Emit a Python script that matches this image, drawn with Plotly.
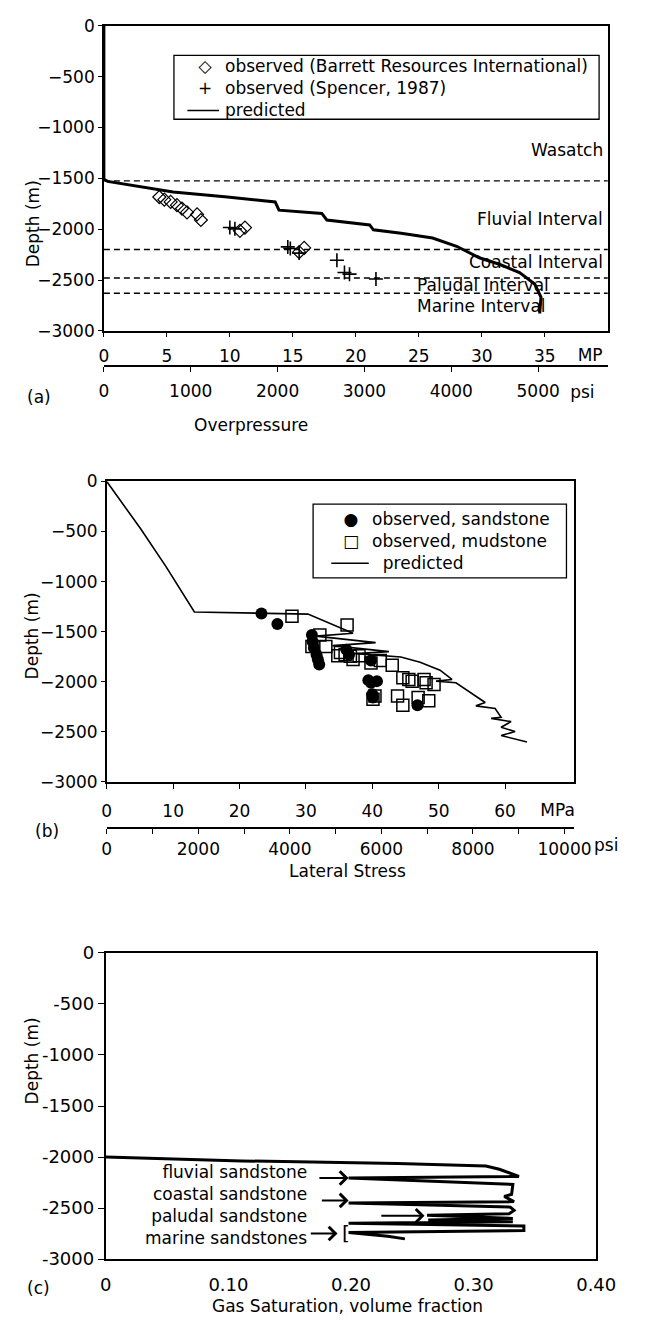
import plotly.graph_objects as go

# ---------------------------------------------------------------- data
# (a) overpressure vs depth
a_pred_mpa = [0, 0, 0.3, 5.5, 9.8, 13.6, 13.9, 17.3, 17.7, 21.1, 21.4, 23.6,
              26.1, 28.0, 29.8, 31.4, 33.0, 34.2, 34.7, 34.6]
a_pred_depth = [0, -1510, -1530, -1635, -1684, -1732, -1813, -1845, -1910, -1958,
                -2006, -2039, -2087, -2168, -2281, -2345, -2426, -2539, -2668, -2829]
a_barrett_mpa = [4.4, 4.8, 5.3, 5.8, 6.2, 6.6, 7.4, 7.7, 10.8, 11.2, 15.9, 15.5]
a_barrett_depth = [-1684, -1710, -1732, -1764, -1797, -1835, -1855, -1910,
                   -2016, -1984, -2184, -2226]
a_spencer_mpa = [10.0, 10.4, 14.6, 14.8, 15.5, 18.5, 19.1, 19.5, 21.6]
a_spencer_depth = [-1984, -1997, -2174, -2190, -2235, -2306, -2426, -2442, -2490]
a_interval_tops = [-1525, -2200, -2480, -2630]
a_interval_names = ["Wasatch", "Fluvial Interval", "Coastal Interval",
                    "Paludal Interval", "Marine Interval"]
a_interval_label_depth = [-1226, -1903, -2320, -2545, -2758]
a_mpa_ticks = [0, 5, 10, 15, 20, 25, 30, 35]
a_psi_ticks = [0, 1000, 2000, 3000, 4000, 5000]

# (b) lateral stress vs depth
b_pred_mpa = [0, 5.1, 8.9, 13.2, 30.3, 37.1, 31.5, 40.5, 34.0, 42.5, 37.5, 44.3,
              47.2, 50.2, 52.0, 49.6, 52.6, 55.6, 57.0, 55.6, 58.5, 59.4, 57.9,
              60.9, 59.4, 61.5, 59.4, 63.3]
b_pred_depth = [0, -473, -848, -1304, -1325, -1516, -1545, -1610, -1640, -1700,
                -1720, -1754, -1807, -1886, -1978, -1995, -2011, -2143, -2209,
                -2242, -2268, -2357, -2367, -2400, -2456, -2499, -2539, -2604]
b_sand_mpa = [23.3, 25.7, 30.9, 31.0, 31.2, 31.6, 31.8, 32.0, 36.1, 36.5, 39.4,
              39.8, 40.7, 40.0, 40.1, 46.8, 39.8]
b_sand_depth = [-1320, -1425, -1533, -1599, -1665, -1731, -1780, -1830, -1681,
                -1731, -1985, -2011, -1995, -2126, -2159, -2235, -1790]
b_mud_mpa = [27.9, 36.2, 32.1, 33.0, 30.9, 34.8, 35.2, 35.9, 36.7, 37.1, 38.0,
             39.8, 41.2, 43.0, 44.6, 45.5, 46.0, 47.8, 48.1, 49.3, 43.8, 44.6,
             46.9, 48.5, 40.4, 40.1]
b_mud_depth = [-1346, -1434, -1533, -1648, -1648, -1741, -1708, -1731, -1747,
               -1780, -1741, -1813, -1790, -1836, -1962, -1978, -1995, -1978,
               -2011, -2028, -2143, -2235, -2159, -2192, -2143, -2176]
b_mpa_ticks = [0, 10, 20, 30, 40, 50, 60]
b_psi_ticks = [0, 1000, 2000, 3000, 4000, 5000, 6000, 7000, 8000, 9000, 10000]
b_psi_labels = ["0", "", "2000", "", "4000", "", "6000", "", "8000", "", "10000"]

# (c) gas saturation vs depth
c_sat = [0.000, 0.111, 0.238, 0.310, 0.321, 0.337, 0.198, 0.332, 0.331, 0.325,
         0.333, 0.198, 0.330, 0.333, 0.329, 0.262, 0.332, 0.263, 0.332, 0.198,
         0.341, 0.341, 0.198, 0.230, 0.244]
c_depth = [-2000, -2038, -2063, -2089, -2120, -2190, -2206, -2269, -2365, -2387,
           -2437, -2450, -2491, -2523, -2555, -2571, -2602, -2618, -2634, -2650,
           -2675, -2720, -2739, -2777, -2802]
c_labels = ["fluvial sandstone", "coastal sandstone", "paludal sandstone",
            "marine sandstones"]
c_arrow_tail = [0.173, 0.175, 0.2235, 0.166]
c_arrow_tip = [0.198, 0.198, 0.260, 0.189]
c_arrow_depth = [-2205, -2425, -2576, -2749]
c_sat_ticks = [0, 0.10, 0.20, 0.30, 0.40]
c_sat_labels = ["0", "0.10", "0.20", "0.30", "0.40"]
depth_ticks = [0, -500, -1000, -1500, -2000, -2500, -3000]
c_depth_labels = ["0", "-500", "-1000", "-1500", "-2000", "-2500", "-3000"]

# unit labels that sit in the tick-label rows
a_unit_mpa_pos, a_unit_mpa = 38.6, "MP"
a_unit_psi_pos, a_unit_psi = 5510, "psi"
b_unit_mpa_pos, b_unit_mpa = 67.9, "MPa"

MPA_TO_PSI = 145.0377

# ---------------------------------------------------------------- helpers
W, H = 645, 1336
FONT = "DejaVu Sans"
TICK = dict(family=FONT, size=17, color="black")
TXT = dict(family=FONT, size=17, color="black")
CLEAR = "rgba(0,0,0,0)"


def px(x):
    return x / W


def py(y):
    return 1 - y / H


def frame(**kw):
    base = dict(showline=True, mirror=True, linecolor="black", linewidth=1.5,
                showgrid=False, zeroline=False, ticks="outside", ticklen=4,
                tickwidth=1.3, tickcolor="black", tickfont=TICK)
    base.update(kw)
    return base


def extra_axis(over, rng, vals, labels, ticklen, tickcolor="black", line=True, **kw):
    d = dict(overlaying=over, side="bottom", range=rng, tickvals=vals,
             ticktext=labels, ticks="outside", ticklen=ticklen, tickwidth=1.3,
             tickcolor=tickcolor, showline=line, linecolor="black", linewidth=1.5,
             showgrid=False, zeroline=False, tickfont=TICK)
    d.update(kw)
    return d


def holder(xa, ya):
    # empty trace that makes an overlaid scale axis render
    return go.Scatter(x=[None], y=[None], mode="lines", xaxis=xa, yaxis=ya,
                      hoverinfo="skip")


fig = go.Figure()

# (a)
fig.add_trace(go.Scatter(x=a_pred_mpa, y=a_pred_depth, mode="lines",
                         line=dict(color="black", width=3), xaxis="x", yaxis="y"))
fig.add_trace(go.Scatter(x=a_barrett_mpa, y=a_barrett_depth, mode="markers",
                         marker=dict(symbol="diamond-open", size=10, color="black",
                                     line=dict(width=1.2)), xaxis="x", yaxis="y"))
fig.add_trace(go.Scatter(x=a_spencer_mpa, y=a_spencer_depth, mode="markers",
                         marker=dict(symbol="cross-thin", size=10, color="black",
                                     line=dict(width=1.6, color="black")),
                         xaxis="x", yaxis="y"))
for xa in ("x4", "x6", "x7"):
    fig.add_trace(holder(xa, "y"))

# (b)
fig.add_trace(go.Scatter(x=b_pred_mpa, y=b_pred_depth, mode="lines",
                         line=dict(color="black", width=1.6), xaxis="x2", yaxis="y2"))
fig.add_trace(go.Scatter(x=b_mud_mpa, y=b_mud_depth, mode="markers",
                         marker=dict(symbol="square-open", size=12, color="black",
                                     line=dict(width=1.5)), xaxis="x2", yaxis="y2"))
fig.add_trace(go.Scatter(x=b_sand_mpa, y=b_sand_depth, mode="markers",
                         marker=dict(symbol="circle", size=12, color="black"),
                         xaxis="x2", yaxis="y2"))
for xa in ("x5", "x8"):
    fig.add_trace(holder(xa, "y2"))

# (c)
fig.add_trace(go.Scatter(x=c_sat, y=c_depth, mode="lines",
                         line=dict(color="black", width=3), xaxis="x3", yaxis="y3"))

shapes = []
ann = []

# interval boundaries in (a)
for d in a_interval_tops:
    shapes.append(dict(type="line", xref="x domain", yref="y", x0=0, x1=1, y0=d, y1=d,
                       line=dict(color="black", width=1.3, dash="6px,4px")))
for i, (name, d) in enumerate(zip(a_interval_names, a_interval_label_depth)):
    if i < 3:
        ann.append(dict(text=name, xref="paper", yref="y", x=px(624), y=d,
                        xanchor="right", yanchor="middle", showarrow=False, font=TXT))
    else:
        ann.append(dict(text=name, xref="paper", yref="y", x=px(426), y=d,
                        xanchor="left", yanchor="middle", showarrow=False, font=TXT))

# legend (a)
shapes.append(dict(type="rect", xref="paper", yref="paper", x0=px(175), x1=px(618),
                   y0=py(110), y1=py(45), line=dict(color="black", width=1.3)))
ann.append(dict(text="observed (Barrett Resources International)<br>"
                     "observed (Spencer, 1987)<br>predicted",
                xref="paper", yref="paper", x=px(226), y=py(78), xanchor="left",
                yanchor="middle", align="left", showarrow=False, font=TXT))
ann.append(dict(text="◇<br>+<br> ", xref="paper", yref="paper", x=px(208), y=py(78),
                xanchor="center", yanchor="middle", align="center", showarrow=False,
                font=TXT))
shapes.append(dict(type="line", xref="paper", yref="paper", x0=px(189), x1=px(222),
                   y0=py(101), y1=py(101), line=dict(color="black", width=1.5)))

# legend (b)
shapes.append(dict(type="rect", xref="paper", yref="paper", x0=px(320), x1=px(584),
                   y0=py(576), y1=py(501), line=dict(color="black", width=1.3)))
ann.append(dict(text="observed, sandstone<br>observed, mudstone<br>"
                     "\u00a0\u00a0predicted",
                xref="paper", yref="paper", x=px(379), y=py(538), xanchor="left",
                yanchor="middle", align="left", showarrow=False, font=TXT))
ann.append(dict(text="●<br>□<br> ", xref="paper", yref="paper", x=px(359), y=py(538),
                xanchor="center", yanchor="middle", align="center", showarrow=False,
                font=TXT))
shapes.append(dict(type="line", xref="paper", yref="paper", x0=px(339), x1=px(378),
                   y0=py(561), y1=py(561), line=dict(color="black", width=1.5)))

# labels and arrows in (c)
ann.append(dict(text="<br>".join(c_labels), xref="x3", yref="paper", x=0.166,
                y=py(1213), xanchor="right", yanchor="middle", align="right",
                showarrow=False, font=TXT))
for tail, tip, ad in zip(c_arrow_tail, c_arrow_tip, c_arrow_depth):
    ann.append(dict(text="", xref="x3", yref="y3", axref="x3", ayref="y3",
                    x=tip, y=ad, ax=tail, ay=ad, showarrow=True, arrowhead=4,
                    arrowsize=1.3, arrowwidth=2, arrowcolor="black", standoff=0))
ann.append(dict(text="[", xref="x3", yref="y3", x=0.196, y=c_arrow_depth[3],
                showarrow=False, font=dict(family=FONT, size=20, color="black")))

# remaining unit label, titles and panel tags
ann.append(dict(text="psi", xref="paper", yref="paper", x=px(611), y=py(847),
                xanchor="left", showarrow=False, font=TICK))
for text, x, y in [("Overpressure", 255, 408), ("Lateral Stress", 356, 874),
                   ("Gas Saturation, volume fraction", 356, 1328),
                   ("(a)", 20, 380), ("(b)", 28, 833), ("(c)", 20, 1310)]:
    ann.append(dict(text=text, xref="paper", yref="paper", x=px(x), y=py(y),
                    showarrow=False, font=TXT))
for y in (170, 635, 1113):
    ann.append(dict(text="Depth (m)", xref="paper", yref="paper", x=px(15), y=py(y),
                    textangle=-90, showarrow=False, font=TXT))

a_rng = [0, 40]
b_rng = [0, 70.4]
fig.update_layout(
    width=W, height=H, margin=dict(l=0, r=0, t=0, b=0),
    paper_bgcolor="white", plot_bgcolor="white", showlegend=False,
    xaxis=frame(domain=[px(102), px(627)], range=a_rng, anchor="y",
                tickvals=a_mpa_ticks, ticklabelstandoff=5),
    yaxis=frame(domain=[py(325), py(15)], range=[-3000, 0], anchor="x",
                tickvals=depth_ticks),
    xaxis6=extra_axis("x", a_rng, [a_unit_mpa_pos], [a_unit_mpa], 4,
                      tickcolor=CLEAR, line=False, anchor="y", ticklabelstandoff=5),
    xaxis4=extra_axis("x", [v * MPA_TO_PSI for v in a_rng], a_psi_ticks,
                      [str(v) for v in a_psi_ticks], 5, anchor="free",
                      position=py(361), ticklabelstandoff=5),
    xaxis7=extra_axis("x", [v * MPA_TO_PSI for v in a_rng], [a_unit_psi_pos],
                      [a_unit_psi], 5, tickcolor=CLEAR, line=False, anchor="free",
                      position=py(361), ticklabelstandoff=5),
    xaxis2=frame(domain=[px(105), px(592)], range=b_rng, anchor="y2",
                 tickvals=b_mpa_ticks, ticklen=6, ticklabelstandoff=7),
    yaxis2=frame(domain=[py(783), py(478)], range=[-3000, 0], anchor="x2",
                 tickvals=depth_ticks),
    xaxis8=extra_axis("x2", b_rng, [b_unit_mpa_pos], [b_unit_mpa], 6,
                      tickcolor=CLEAR, line=False, anchor="y2", ticklabelstandoff=7),
    xaxis5=extra_axis("x2", [v * MPA_TO_PSI for v in b_rng], b_psi_ticks,
                      b_psi_labels, 5, anchor="free", position=py(830),
                      ticklabelstandoff=1),
    xaxis3=frame(domain=[px(104), px(615)], range=[0, 0.40], anchor="y3",
                 tickvals=c_sat_ticks, ticktext=c_sat_labels, ticks="", linewidth=2,
                 ticklabelstandoff=8,
                 tickfont=dict(family=FONT, size=18, color="black")),
    yaxis3=frame(domain=[py(1268), py(957)], range=[-3000, 0], anchor="x3",
                 tickvals=depth_ticks, ticktext=c_depth_labels, linewidth=2, ticklen=6,
                 tickfont=dict(family=FONT, size=18, color="black")),
    shapes=shapes, annotations=ann,
)

fig.write_html("out.html")
